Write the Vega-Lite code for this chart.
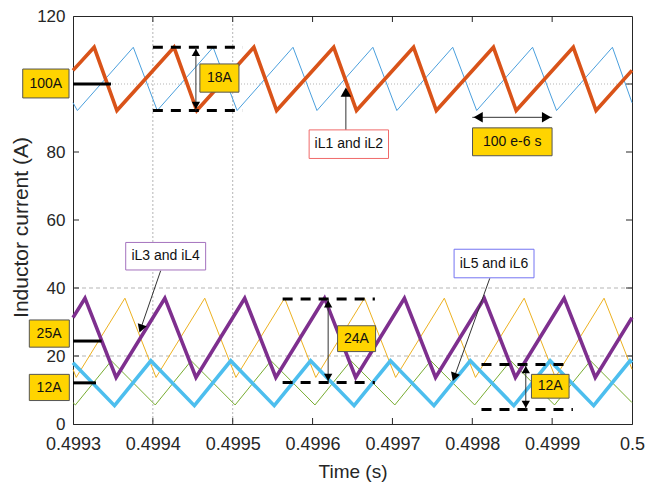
{
  "$schema": "https://vega.github.io/schema/vega-lite/v6.json",
  "width": 559,
  "height": 408,
  "autosize": "none",
  "padding": {"left": 73, "top": 16, "right": 27, "bottom": 62},
  "background": "white",
  "config": {
    "view": {"stroke": "#262626", "strokeWidth": 1},
    "font": "Liberation Sans",
    "axis": {
      "grid": false,
      "ticks": false,
      "labelFont": "Liberation Sans",
      "labelFontSize": 17,
      "labelColor": "#262626",
      "domainColor": "#262626",
      "titleFont": "Liberation Sans",
      "titleFontSize": 19,
      "titleFontWeight": "normal",
      "titleColor": "#262626"
    }
  },
  "datasets": {
    "waves": [
      {"s": "iL1", "t": 0.4993, "v": 104.0},
      {"s": "iL1", "t": 0.4993265, "v": 110.8},
      {"s": "iL1", "t": 0.499355, "v": 92.2},
      {"s": "iL1", "t": 0.4994265, "v": 110.8},
      {"s": "iL1", "t": 0.499455, "v": 92.2},
      {"s": "iL1", "t": 0.4995265, "v": 110.8},
      {"s": "iL1", "t": 0.499555, "v": 92.2},
      {"s": "iL1", "t": 0.4996265, "v": 110.8},
      {"s": "iL1", "t": 0.499655, "v": 92.2},
      {"s": "iL1", "t": 0.4997265, "v": 110.8},
      {"s": "iL1", "t": 0.499755, "v": 92.2},
      {"s": "iL1", "t": 0.4998265, "v": 110.8},
      {"s": "iL1", "t": 0.499855, "v": 92.2},
      {"s": "iL1", "t": 0.4999265, "v": 110.8},
      {"s": "iL1", "t": 0.499955, "v": 92.2},
      {"s": "iL1", "t": 0.5, "v": 104.0},
      {"s": "iL2", "t": 0.4993, "v": 94.5},
      {"s": "iL2", "t": 0.4993055, "v": 92.2},
      {"s": "iL2", "t": 0.4993755, "v": 110.8},
      {"s": "iL2", "t": 0.4994055, "v": 92.2},
      {"s": "iL2", "t": 0.4994755, "v": 110.8},
      {"s": "iL2", "t": 0.4995055, "v": 92.2},
      {"s": "iL2", "t": 0.4995755, "v": 110.8},
      {"s": "iL2", "t": 0.4996055, "v": 92.2},
      {"s": "iL2", "t": 0.4996755, "v": 110.8},
      {"s": "iL2", "t": 0.4997055, "v": 92.2},
      {"s": "iL2", "t": 0.4997755, "v": 110.8},
      {"s": "iL2", "t": 0.4998055, "v": 92.2},
      {"s": "iL2", "t": 0.4998755, "v": 110.8},
      {"s": "iL2", "t": 0.4999055, "v": 92.2},
      {"s": "iL2", "t": 0.4999755, "v": 110.8},
      {"s": "iL2", "t": 0.5, "v": 94.5},
      {"s": "iL3", "t": 0.4993, "v": 31.3},
      {"s": "iL3", "t": 0.499315, "v": 37.0},
      {"s": "iL3", "t": 0.499354, "v": 13.7},
      {"s": "iL3", "t": 0.499415, "v": 37.0},
      {"s": "iL3", "t": 0.499454, "v": 13.7},
      {"s": "iL3", "t": 0.499515, "v": 37.0},
      {"s": "iL3", "t": 0.499554, "v": 13.7},
      {"s": "iL3", "t": 0.499615, "v": 37.0},
      {"s": "iL3", "t": 0.499654, "v": 13.7},
      {"s": "iL3", "t": 0.499715, "v": 37.0},
      {"s": "iL3", "t": 0.499754, "v": 13.7},
      {"s": "iL3", "t": 0.499815, "v": 37.0},
      {"s": "iL3", "t": 0.499854, "v": 13.7},
      {"s": "iL3", "t": 0.499915, "v": 37.0},
      {"s": "iL3", "t": 0.499954, "v": 13.7},
      {"s": "iL3", "t": 0.5, "v": 31.3},
      {"s": "iL4", "t": 0.4993, "v": 16.1},
      {"s": "iL4", "t": 0.499304, "v": 13.7},
      {"s": "iL4", "t": 0.499365, "v": 37.0},
      {"s": "iL4", "t": 0.499404, "v": 13.7},
      {"s": "iL4", "t": 0.499465, "v": 37.0},
      {"s": "iL4", "t": 0.499504, "v": 13.7},
      {"s": "iL4", "t": 0.499565, "v": 37.0},
      {"s": "iL4", "t": 0.499604, "v": 13.7},
      {"s": "iL4", "t": 0.499665, "v": 37.0},
      {"s": "iL4", "t": 0.499704, "v": 13.7},
      {"s": "iL4", "t": 0.499765, "v": 37.0},
      {"s": "iL4", "t": 0.499804, "v": 13.7},
      {"s": "iL4", "t": 0.499865, "v": 37.0},
      {"s": "iL4", "t": 0.499904, "v": 13.7},
      {"s": "iL4", "t": 0.499965, "v": 37.0},
      {"s": "iL4", "t": 0.5, "v": 16.1},
      {"s": "iL5", "t": 0.4993, "v": 18.0},
      {"s": "iL5", "t": 0.499352, "v": 5.4},
      {"s": "iL5", "t": 0.4993975, "v": 18.6},
      {"s": "iL5", "t": 0.499452, "v": 5.4},
      {"s": "iL5", "t": 0.4994975, "v": 18.6},
      {"s": "iL5", "t": 0.499552, "v": 5.4},
      {"s": "iL5", "t": 0.4995975, "v": 18.6},
      {"s": "iL5", "t": 0.499652, "v": 5.4},
      {"s": "iL5", "t": 0.4996975, "v": 18.6},
      {"s": "iL5", "t": 0.499752, "v": 5.4},
      {"s": "iL5", "t": 0.4997975, "v": 18.6},
      {"s": "iL5", "t": 0.499852, "v": 5.4},
      {"s": "iL5", "t": 0.4998975, "v": 18.6},
      {"s": "iL5", "t": 0.499952, "v": 5.4},
      {"s": "iL5", "t": 0.4999975, "v": 18.6},
      {"s": "iL5", "t": 0.5, "v": 18.0},
      {"s": "iL6", "t": 0.4993, "v": 6.3},
      {"s": "iL6", "t": 0.499303, "v": 5.6},
      {"s": "iL6", "t": 0.499348, "v": 18.6},
      {"s": "iL6", "t": 0.499403, "v": 5.6},
      {"s": "iL6", "t": 0.499448, "v": 18.6},
      {"s": "iL6", "t": 0.499503, "v": 5.6},
      {"s": "iL6", "t": 0.499548, "v": 18.6},
      {"s": "iL6", "t": 0.499603, "v": 5.6},
      {"s": "iL6", "t": 0.499648, "v": 18.6},
      {"s": "iL6", "t": 0.499703, "v": 5.6},
      {"s": "iL6", "t": 0.499748, "v": 18.6},
      {"s": "iL6", "t": 0.499803, "v": 5.6},
      {"s": "iL6", "t": 0.499848, "v": 18.6},
      {"s": "iL6", "t": 0.499903, "v": 5.6},
      {"s": "iL6", "t": 0.499948, "v": 18.6},
      {"s": "iL6", "t": 0.5, "v": 6.3}
    ],
    "boxes": [
      {"kind": "note", "t": 0.49923705, "t2": 0.499295, "v": 104.4, "v2": 95.9},
      {"kind": "note", "t": 0.4992453, "t2": 0.4992954, "v": 30.6, "v2": 22.6},
      {"kind": "note", "t": 0.4992453, "t2": 0.4992954, "v": 14.6, "v2": 6.9},
      {"kind": "note", "t": 0.4994589, "t2": 0.4995078, "v": 105.9, "v2": 97.6},
      {"kind": "note", "t": 0.4998003, "t2": 0.4998999, "v": 87.1, "v2": 78.9},
      {"kind": "note", "t": 0.4996313, "t2": 0.4996789, "v": 28.9, "v2": 21.3},
      {"kind": "note", "t": 0.4998741, "t2": 0.4999212, "v": 14.6, "v2": 7.6},
      {"kind": "iL12", "t": 0.4995957, "t2": 0.4996951, "v": 86.5, "v2": 78.1},
      {"kind": "iL34", "t": 0.499366, "t2": 0.4994661, "v": 53.4, "v2": 45.3},
      {"kind": "iL56", "t": 0.4997772, "t2": 0.4998773, "v": 51.4, "v2": 43.0}
    ],
    "texts": [
      {"label": "100A", "t": 0.499266, "v": 100.1},
      {"label": "25A", "t": 0.49927, "v": 26.6},
      {"label": "12A", "t": 0.49927, "v": 10.7},
      {"label": "18A", "t": 0.4994834, "v": 101.8},
      {"label": "100 e-6 s", "t": 0.49985, "v": 83.0},
      {"label": "24A", "t": 0.499655, "v": 25.1},
      {"label": "12A", "t": 0.4998976, "v": 11.1},
      {"label": "iL1 and iL2", "t": 0.4996454, "v": 82.3},
      {"label": "iL3 and iL4", "t": 0.499416, "v": 49.4},
      {"label": "iL5 and iL6", "t": 0.4998272, "v": 47.2}
    ],
    "levels": [
      {"t": 0.4993, "t2": 0.4993476, "v": 100.0},
      {"t": 0.4993, "t2": 0.4993359, "v": 24.4},
      {"t": 0.4993, "t2": 0.4993288, "v": 12.1}
    ],
    "dashes": [
      {"t": 0.4994, "t2": 0.4995128, "v": 110.8},
      {"t": 0.4994, "t2": 0.4995128, "v": 92.2},
      {"t": 0.4995625, "t2": 0.499678, "v": 36.8},
      {"t": 0.4995625, "t2": 0.499678, "v": 12.2},
      {"t": 0.4998115, "t2": 0.4999241, "v": 17.5},
      {"t": 0.4998115, "t2": 0.499926, "v": 4.3}
    ],
    "shafts": [
      {"t": 0.4994539, "t2": 0.4994539, "v": 110.8, "v2": 92.2},
      {"t": 0.4996195, "t2": 0.4996195, "v": 36.8, "v2": 12.2},
      {"t": 0.499867, "t2": 0.499867, "v": 17.5, "v2": 4.3},
      {"t": 0.4998, "t2": 0.4999, "v": 90.2, "v2": 90.2},
      {"t": 0.4996417, "t2": 0.4996417, "v": 86.5, "v2": 97.0},
      {"t": 0.4994098, "t2": 0.499384, "v": 45.1, "v2": 27.5},
      {"t": 0.4998219, "t2": 0.4997765, "v": 42.85, "v2": 13.2}
    ],
    "headsUp": [
      {"t": 0.4994539, "v": 109.3},
      {"t": 0.4996195, "v": 35.3},
      {"t": 0.499867, "v": 16.0}
    ],
    "headsDown": [
      {"t": 0.4994539, "v": 93.7},
      {"t": 0.4996195, "v": 13.7},
      {"t": 0.499867, "v": 5.8}
    ],
    "headsDiag": [
      {"t": 0.499385, "v": 28.06},
      {"t": 0.4997773, "v": 13.8}
    ],
    "xticks": [
      {"t": 0.4994, "v": 0}, {"t": 0.4995, "v": 0}, {"t": 0.4996, "v": 0},
      {"t": 0.4997, "v": 0}, {"t": 0.4998, "v": 0}, {"t": 0.4999, "v": 0},
      {"t": 0.4994, "v": 120}, {"t": 0.4995, "v": 120}, {"t": 0.4996, "v": 120},
      {"t": 0.4997, "v": 120}, {"t": 0.4998, "v": 120}, {"t": 0.4999, "v": 120}
    ],
    "yticks": [
      {"t": 0.4993, "v": 20}, {"t": 0.4993, "v": 40}, {"t": 0.4993, "v": 60},
      {"t": 0.4993, "v": 80}, {"t": 0.4993, "v": 100},
      {"t": 0.5, "v": 20}, {"t": 0.5, "v": 40}, {"t": 0.5, "v": 60},
      {"t": 0.5, "v": 80}, {"t": 0.5, "v": 100}
    ]
  },
  "encoding": {
    "x": {"field": "t", "type": "quantitative",
          "scale": {"domain": [0.4993, 0.5], "nice": false, "zero": false},
          "axis": {"orient": "bottom", "title": "Time (s)", "labelPadding": 11,
                   "labelFontSize": 18, "titlePadding": 9, "labelOverlap": false,
                   "labelBound": false, "labelFlush": false,
                   "values": [0.4993, 0.4994, 0.4995, 0.4996, 0.4997, 0.4998, 0.4999, 0.5],
                   "labelExpr": "datum.value >= 0.49999 ? '0.5' : format(datum.value, '.4f')"}},
    "y": {"field": "v", "type": "quantitative",
          "scale": {"domain": [0, 120], "nice": false},
          "axis": {"orient": "left", "title": "Inductor current (A)", "labelPadding": 8,
                   "titleFontSize": 21, "titleX": -52, "titleY": 211,
                   "titleAlign": "center", "titleBaseline": "middle", "labelOverlap": false,
                   "values": [0, 20, 40, 60, 80, 100, 120],
                   "labelExpr": "datum.value == 100 ? '' : format(datum.value, 'd')"}}
  },
  "layer": [
    {
      "data": {"values": [{"t": 0.4994}, {"t": 0.4995}]},
      "mark": {"type": "rule", "color": "#b5b5b5", "strokeWidth": 1, "strokeDash": [2, 2]},
      "encoding": {"y": null}
    },
    {
      "data": {"values": [{"v": 40}, {"v": 20}]},
      "mark": {"type": "rule", "color": "#b5b5b5", "strokeWidth": 1, "strokeDash": [4, 3]},
      "encoding": {"x": null}
    },
    {
      "data": {"values": [{"v": 100}]},
      "mark": {"type": "rule", "color": "#b5b5b5", "strokeWidth": 1, "strokeDash": [1, 2]},
      "encoding": {"x": null}
    },
    {
      "data": {"name": "xticks"},
      "mark": {"type": "tick", "orient": "vertical", "size": 12, "thickness": 1, "color": "#262626", "clip": true, "opacity": 1},
      "encoding": {}
    },
    {
      "data": {"name": "yticks"},
      "mark": {"type": "tick", "orient": "horizontal", "size": 12, "thickness": 1, "color": "#262626", "clip": true, "opacity": 1},
      "encoding": {}
    },
    {
      "data": {"name": "waves"},
      "transform": [{"filter": {"field": "s", "oneOf": ["iL2", "iL4", "iL6"]}}],
      "mark": {"type": "line", "strokeWidth": 1},
      "encoding": {
        "color": {"field": "s", "type": "nominal", "legend": null,
                  "scale": {"domain": ["iL1", "iL2", "iL3", "iL4", "iL5", "iL6"],
                            "range": ["#D95319", "#4A9FDD", "#7E2F8E", "#EDB120", "#4DBEEE", "#77AC30"]}},
        "detail": {"field": "s"}
      }
    },
    {
      "data": {"name": "waves"},
      "transform": [{"filter": {"field": "s", "oneOf": ["iL1", "iL3", "iL5"]}}],
      "mark": {"type": "line", "strokeWidth": 3.6},
      "encoding": {
        "color": {"field": "s", "type": "nominal", "legend": null},
        "detail": {"field": "s"}
      }
    },
    {
      "data": {"name": "levels"},
      "mark": {"type": "rule", "color": "black", "strokeWidth": 3},
      "encoding": {"x2": {"field": "t2"}}
    },
    {
      "data": {"name": "dashes"},
      "mark": {"type": "rule", "color": "black", "strokeWidth": 3, "strokeDash": [10, 8]},
      "encoding": {"x2": {"field": "t2"}}
    },
    {
      "data": {"name": "shafts"},
      "mark": {"type": "rule", "color": "#333333", "strokeWidth": 1},
      "encoding": {"x2": {"field": "t2"}, "y2": {"field": "v2"}}
    },
    {
      "data": {"name": "headsUp"},
      "mark": {"type": "point", "shape": "triangle-up", "filled": true, "color": "black", "size": 70, "opacity": 1},
      "encoding": {}
    },
    {
      "data": {"name": "headsDown"},
      "mark": {"type": "point", "shape": "triangle-down", "filled": true, "color": "black", "size": 70, "opacity": 1},
      "encoding": {}
    },
    {
      "data": {"values": [{"t": 0.4996417, "v": 97.6}]},
      "mark": {"type": "point", "shape": "triangle-up", "filled": true, "color": "black", "size": 110, "opacity": 1},
      "encoding": {}
    },
    {
      "data": {"values": [{"t": 0.4998074, "v": 90.2}]},
      "mark": {"type": "point", "shape": "triangle-left", "filled": true, "color": "black", "size": 110, "opacity": 1},
      "encoding": {}
    },
    {
      "data": {"values": [{"t": 0.4998929, "v": 90.2}]},
      "mark": {"type": "point", "shape": "triangle-right", "filled": true, "color": "black", "size": 110, "opacity": 1},
      "encoding": {}
    },
    {
      "data": {"name": "headsDiag"},
      "mark": {"type": "point", "shape": "triangle-up", "filled": true, "color": "black", "size": 90, "opacity": 1, "angle": 199.5},
      "encoding": {}
    },
    {
      "data": {"name": "boxes"},
      "mark": {"type": "rect", "strokeWidth": 1},
      "encoding": {
        "x2": {"field": "t2"},
        "y2": {"field": "v2"},
        "fill": {"field": "kind", "type": "nominal", "legend": null,
                 "scale": {"domain": ["note", "iL12", "iL34", "iL56"],
                           "range": ["#FFD400", "#FFFFFF", "#FFFFFF", "#FFFFFF"]}},
        "stroke": {"field": "kind", "type": "nominal", "legend": null,
                   "scale": {"domain": ["note", "iL12", "iL34", "iL56"],
                             "range": ["#555555", "#F06A6A", "#A472BE", "#7474F2"]}}
      }
    },
    {
      "data": {"name": "texts"},
      "mark": {"type": "text", "font": "Liberation Sans", "fontSize": 14, "color": "#111111", "align": "center", "baseline": "middle"},
      "encoding": {"text": {"field": "label"}}
    }
  ]
}
